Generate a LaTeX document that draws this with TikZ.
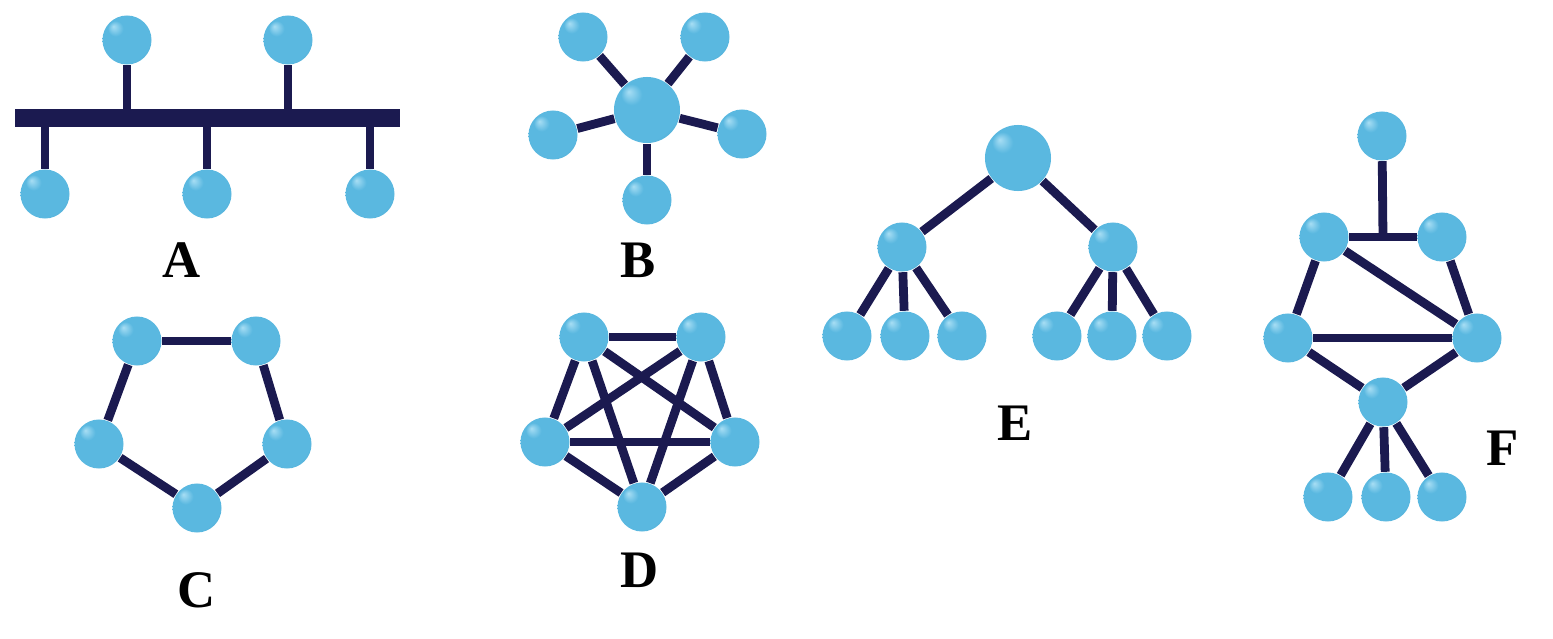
\documentclass[tikz,border=0pt]{standalone}
\usepackage{fontspec}
\setmainfont{Liberation Serif}
\usetikzlibrary{calc}
\usetikzlibrary{backgrounds}
\definecolor{bead}{HTML}{5AB8E0}
\definecolor{beadlight}{HTML}{A8DEF4}
\definecolor{beaddark}{HTML}{3482AA}
\definecolor{wire}{HTML}{1B1A50}
\pgfdeclareradialshading{beadshade}{\pgfpoint{-14bp}{14bp}}{%
  color(0bp)=(beadlight); color(8bp)=(bead); color(30bp)=(bead); color(50bp)=(beaddark)}
\tikzset{
  % A station of the network
  ball/.style={circle, inner sep=0pt, minimum size=#1, shade, shading=beadshade},
  ball/.default=4.9mm,
  % Links and the bus cable
  link/.style={draw=wire, line width=2.5pt},
  busbar/.style={fill=wire, rectangle, inner sep=0pt,
    minimum width=38.5mm, minimum height=1.7mm},
  % Letter under each topology
  lbl/.style={font=\fontsize{15}{18}\selectfont\bfseries, inner sep=0pt},
}

\begin{document}
\begin{tikzpicture}[x=0.01cm, y=-0.01cm]
\useasboundingbox (0,0) rectangle (1553,639);

% A: bus
\node[busbar] (bus) at (207.5,118) {};
\node[ball] (a1) at (127,40) {};
\node[ball] (a2) at (288,40) {};
\node[ball] (a3) at (45,194) {};
\node[ball] (a4) at (207,194) {};
\node[ball] (a5) at (370,194) {};
\node[lbl] (la) at (182,260) {A};

% B: star
\node[ball=6.6mm] (bhub) at (647,110) {};
\node[ball] (b1) at (583,37) {};
\node[ball] (b2) at (705,37) {};
\node[ball] (b3) at (742,134) {};
\node[ball] (b4) at (647,200) {};
\node[ball] (b5) at (553,135) {};
\node[lbl] (lb) at (638,260) {B};

% C: ring
\node[ball] (c1) at (137,341) {};
\node[ball] (c2) at (256,341) {};
\node[ball] (c3) at (287,444) {};
\node[ball] (c4) at (197,508) {};
\node[ball] (c5) at (99,444) {};
\node[lbl] (lc) at (197,590) {C};

% D: mesh
\node[ball] (d1) at (584,337) {};
\node[ball] (d2) at (701,337) {};
\node[ball] (d3) at (735,442) {};
\node[ball] (d4) at (642,507) {};
\node[ball] (d5) at (545,442) {};
\node[lbl] (ld) at (640,570) {D};

% E: tree
\node[ball=6.6mm] (eroot) at (1018,158) {};
\node[ball] (el) at (902,247) {};
\node[ball] (er) at (1113,247) {};
\node[ball] (e1) at (847,336) {};
\node[ball] (e2) at (905,336) {};
\node[ball] (e3) at (962,336) {};
\node[ball] (e4) at (1057,336) {};
\node[ball] (e5) at (1112,336) {};
\node[ball] (e6) at (1167,336) {};
\node[lbl] (le) at (1015,423) {E};

% F: hybrid
\node[ball] (ftop) at (1382,136) {};
\node[ball] (ful) at (1324,237) {};
\node[ball] (fur) at (1442,237) {};
\node[ball] (fml) at (1288,338) {};
\node[ball] (fmr) at (1477,338) {};
\node[ball] (fhub) at (1383,402) {};
\node[ball] (f1) at (1328,497) {};
\node[ball] (f2) at (1386,497) {};
\node[ball] (f3) at (1442,497) {};
\coordinate (ftee) at ($(ful)!0.5!(fur)$);
\node[lbl] (lf) at (1503,448) {F};

\begin{scope}[on background layer]
  \foreach \n in {a1,a2}
    \draw[link] (\n) -- (\n |- bus.north);
  \foreach \n in {a3,a4,a5}
    \draw[link] (\n) -- (\n |- bus.south);
  \foreach \n in {b1,b2,b3,b4,b5}
    \draw[link] (bhub) -- (\n);
  \foreach \p/\q in {c1/c2,c2/c3,c3/c4,c4/c5,c5/c1}
    \draw[link] (\p) -- (\q);
  \foreach \p/\q in {d1/d2,d1/d3,d1/d4,d1/d5,d2/d3,d2/d4,d2/d5,d3/d4,d3/d5,d4/d5}
    \draw[link] (\p) -- (\q);
  \foreach \n in {el,er}
    \draw[link] (eroot) -- (\n);
  \foreach \n in {e1,e2,e3}
    \draw[link] (el) -- (\n);
  \foreach \n in {e4,e5,e6}
    \draw[link] (er) -- (\n);
  \draw[link] (ftop) -- (ftee);
  \foreach \p/\q in {ful/fur,ful/fml,ful/fmr,fur/fmr,fml/fmr,fml/fhub,fmr/fhub}
    \draw[link] (\p) -- (\q);
  \foreach \n in {f1,f2,f3}
    \draw[link] (fhub) -- (\n);
\end{scope}

\end{tikzpicture}
\end{document}
